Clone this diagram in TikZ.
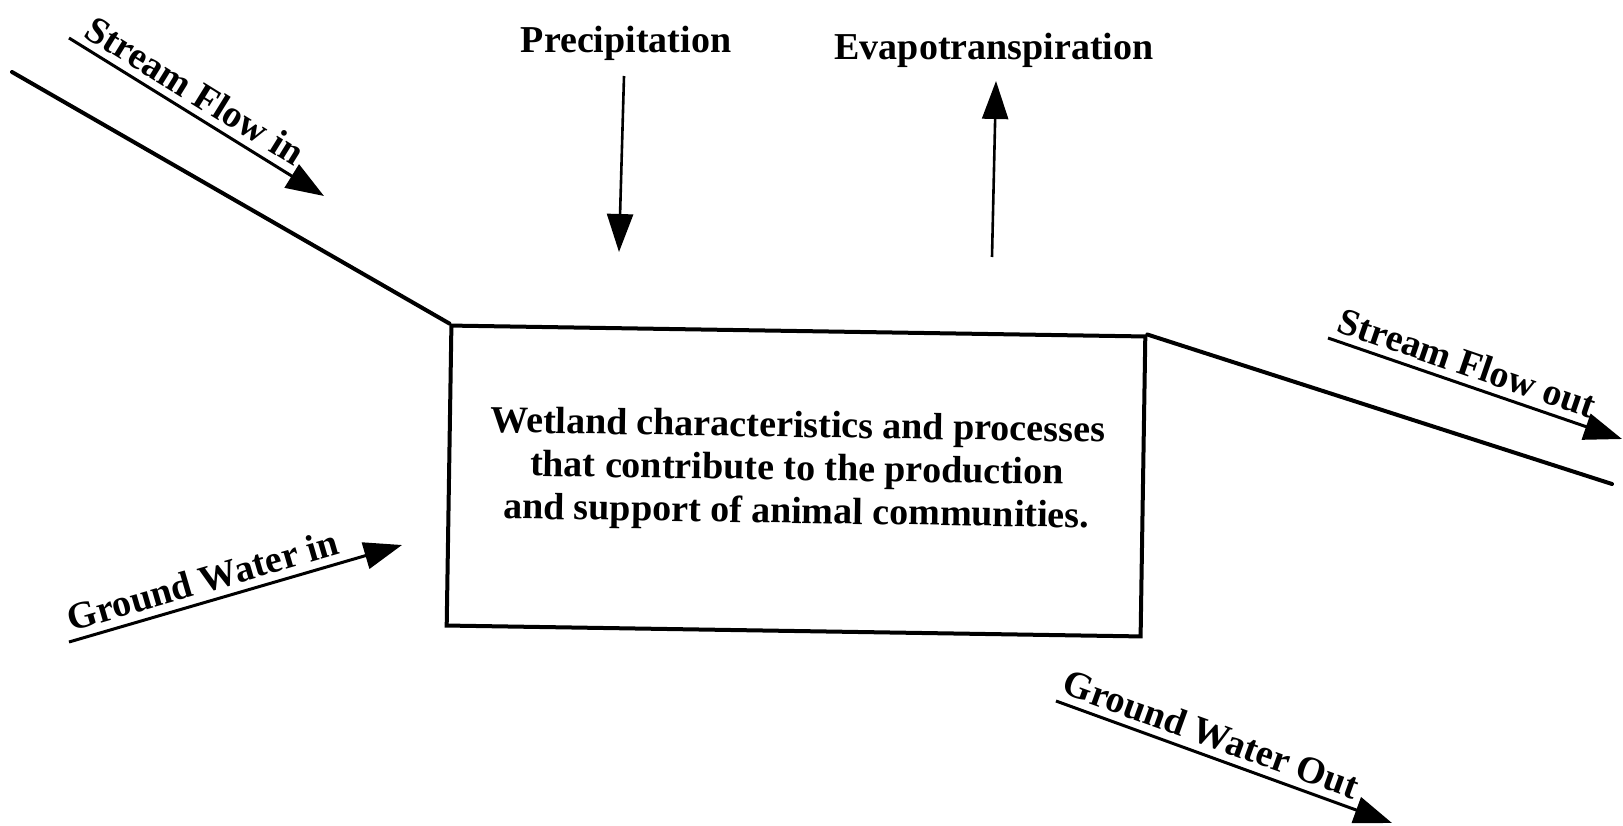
\documentclass[tikz,border=0pt]{standalone}
\usepackage{fontspec}
\setmainfont{Liberation Serif}
\usetikzlibrary{arrows.meta}
\begin{document}
\begin{tikzpicture}[x=1pt,y=1pt,
  lbl/.style={font=\fontsize{38}{43}\selectfont\bfseries, inner sep=0pt},
  tag/.style={lbl, sloped, anchor=south, inner xsep=0pt, inner ysep=7pt},
  channel/.style={line width=4pt, line cap=round},
  flowarrow/.style={line width=3pt, -{Triangle[length=38pt,width=27pt]}},
  vertarrow/.style={line width=2.6pt, -{Triangle[length=38pt,width=26pt]}},
  wetbox/.style={draw, line width=4pt, minimum width=694pt, minimum height=300pt,
                 rotate=-0.9, inner sep=0pt}
]
\useasboundingbox (0,0) rectangle (1623,-825);

% central wetland box
\node[wetbox] (box) at (796,-481) {};
\node[lbl, align=center, rotate=-0.9] (boxtext) at (797,-471)
  {Wetland characteristics and processes\\that contribute to the production\\and support of animal communities.};

% stream channel entering and leaving the box
\coordinate (upstream) at (12,-72);
\coordinate (downstream) at (1612,-484);
\draw[channel] (upstream) -- (box.north west);
\draw[channel] (box.north east) -- (downstream);

% stream flow in
\coordinate (sfi-a) at (69,-38);
\coordinate (sfi-b) at (324,-196);
\draw[flowarrow] (sfi-a) -- node[tag, pos=0.45] (sfi) {Stream Flow in} (sfi-b);

% stream flow out
\coordinate (sfo-a) at (1328,-338);
\coordinate (sfo-b) at (1622,-439);
\draw[flowarrow] (sfo-a) -- node[tag, pos=0.45] (sfo) {Stream Flow out} (sfo-b);

% ground water in
\coordinate (gwi-a) at (69,-642);
\coordinate (gwi-b) at (402,-545);
\draw[flowarrow] (gwi-a) -- node[tag, pos=0.42] (gwi) {Ground Water in} (gwi-b);

% ground water out
\coordinate (gwo-a) at (1056,-701);
\coordinate (gwo-b) at (1392,-823);
\draw[flowarrow] (gwo-a) -- node[tag, pos=0.44] (gwo) {Ground Water Out} (gwo-b);

% precipitation
\node[lbl] (prec) at (626,-43) {Precipitation};
\coordinate (prec-a) at (624,-76);
\coordinate (prec-b) at (619,-252);
\draw[vertarrow] (prec-a) -- (prec-b);

% evapotranspiration
\node[lbl] (evap) at (994,-50) {Evapotranspiration};
\coordinate (evap-a) at (992,-257);
\coordinate (evap-b) at (996,-81);
\draw[vertarrow] (evap-a) -- (evap-b);
\end{tikzpicture}
\end{document}
